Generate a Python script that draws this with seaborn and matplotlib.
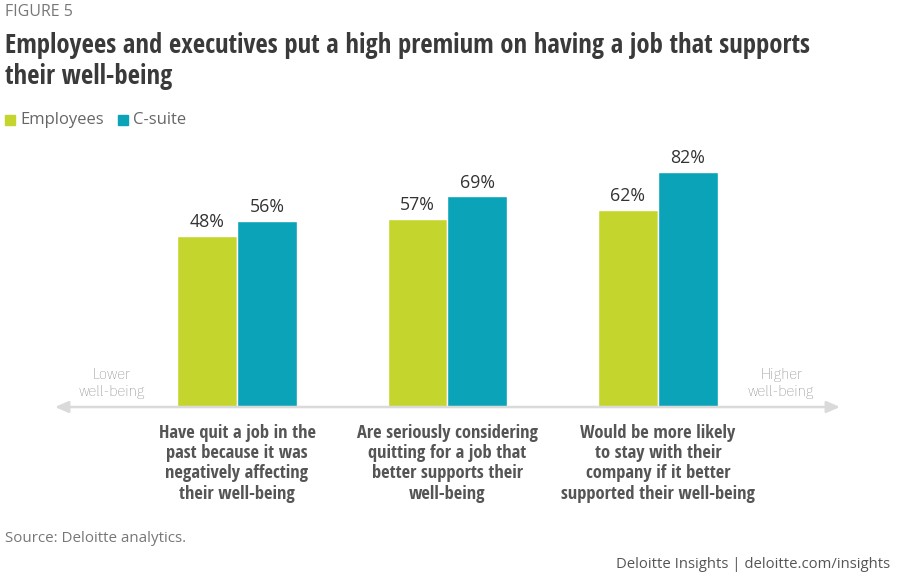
import numpy as np
import pandas as pd
import seaborn as sns
from matplotlib import pyplot as plt
from matplotlib import font_manager

# data
categories = [
    "Have quit a job in the\npast because it was\nnegatively affecting\ntheir well-being",
    "Are seriously considering\nquitting for a job that\nbetter supports their\nwell-being",
    "Would be more likely\nto stay with their\ncompany if it better\nsupported their well-being",
]
employees = [48, 57, 62]
csuite = [56, 69, 82]
series = ["Employees", "C-suite"]
colors = ["#C4D62E", "#0BA3B8"]

df = pd.DataFrame({
    "category": categories * 2,
    "group": [series[0]] * 3 + [series[1]] * 3,
    "value": employees + csuite,
})

sns.set_style("white")
available = {f.name for f in font_manager.fontManager.ttflist}
base_font = "Open Sans" if "Open Sans" in available else "DejaVu Sans"
narrow_font = base_font
for cand in ["Open Sans Condensed", "Liberation Sans Narrow", "Roboto Condensed"]:
    if cand in available:
        narrow_font = cand
        break
plt.rcParams["font.family"] = [base_font, "DejaVu Sans"]

# a light/regular narrow face for the arrow captions, if there is one
light_prop = None
for f in font_manager.fontManager.ttflist:
    nm = f.name.lower()
    w = f.weight if isinstance(f.weight, int) else 400
    if ("condensed" in nm or "narrow" in nm) and w <= 400 and f.style == "normal":
        if light_prop is None or w < light_prop[1]:
            light_prop = (f.fname, w)
if light_prop is not None:
    light_kw = dict(fontproperties=font_manager.FontProperties(fname=light_prop[0], size=11.6))
else:
    light_kw = dict(fontsize=11, family=base_font)

fig = plt.figure(figsize=(9, 5.87), dpi=100)
ax = fig.add_axes([55 / 900, (587 - 407) / 587, 785 / 900, (407 - 140) / 587])

sns.barplot(data=df, x="category", y="value", hue="group", palette=colors,
            width=0.57, gap=0, saturation=1, legend=False, ax=ax)

ymin = -43
ax.set_ylim(ymin, 99)
ax.set_xlim(-0.865, 2.865)

# bars in the original run down to the arrow line
for p in ax.patches:
    h = p.get_height()
    p.set_y(ymin)
    p.set_height(h - ymin)
    ax.text(p.get_x() + p.get_width() / 2, h + 2.5, f"{h:.0f}%",
            ha="center", va="bottom", fontsize=12.8, color="#333333")

ax.axis("off")

# well-being arrow
ax.annotate("", xy=(0, 0), xytext=(1, 0), xycoords="axes fraction",
            arrowprops=dict(arrowstyle="<|-|>,head_length=0.8,head_width=0.35",
                            color="#DADADA", lw=1.8, shrinkA=0, shrinkB=0))
ax.text(-0.595, ymin + 12.5, "Lower\nwell-being", ha="center", va="center",
        color="#6F6F6F", linespacing=1.2, **light_kw)
ax.text(2.585, ymin + 12.5, "Higher\nwell-being", ha="center", va="center",
        color="#6F6F6F", linespacing=1.2, **light_kw)

for i, label in enumerate(categories):
    ax.text(i, ymin - 8.8, label, ha="center", va="top", fontsize=13.3,
            fontweight="bold", color="#555555", family=narrow_font,
            linespacing=1.17)

# header
fig.text(5 / 900, 1 - 12 / 587, "FIGURE 5", fontsize=11.5, color="#777777",
         va="center", ha="left")
fig.text(5 / 900, 1 - 61 / 587,
         "Employees and executives put a high premium on having a job that supports\ntheir well-being",
         fontsize=19.2, fontweight="bold", color="#3A3A3A", va="center",
         ha="left", family=narrow_font, linespacing=1.15)

# legend
for x0, name, c in [(5, series[0], colors[0]), (118, series[1], colors[1])]:
    fig.patches.append(plt.Rectangle((x0 / 900, 1 - 125 / 587), 10 / 900, 10 / 587,
                                     transform=fig.transFigure, color=c))
    fig.text((x0 + 15) / 900, 1 - 120 / 587, name, fontsize=12,
             color="#666666", va="center", ha="left")

# footer
fig.text(5 / 900, 1 - 539 / 587, "Source: Deloitte analytics.", fontsize=10.9,
         color="#777777", va="center", ha="left")
fig.text(890 / 900, 1 - 564 / 587, "Deloitte Insights | deloitte.com/insights",
         fontsize=10.7, color="#555555", va="center", ha="right")

fig.savefig("out.png", dpi=100)
